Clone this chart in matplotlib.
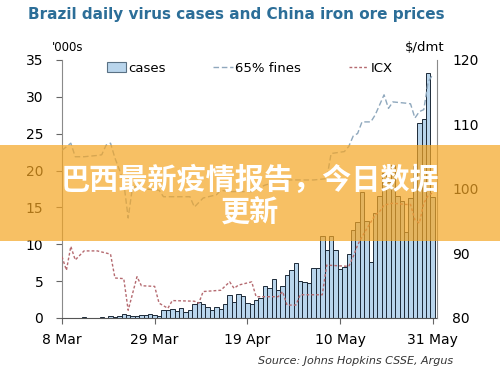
import numpy as np
import pandas as pd
import matplotlib
matplotlib.use("Agg")
import matplotlib.pyplot as plt
from matplotlib.patches import Patch, Rectangle
from matplotlib.lines import Line2D

# Brazil daily cases ('000s), 8 Mar - 31 May
case_dates = pd.date_range("2020-03-08", "2020-05-31", freq="D")
cases = [
    0.007, 0.005, 0.006, 0.007, 0.014, 0.099, 0.0, 0.011, 0.038, 0.121,
    0.051, 0.249, 0.172, 0.228, 0.525, 0.378, 0.323, 0.307, 0.431, 0.432,
    0.487, 0.352, 0.323, 1.138, 1.119, 1.208, 1.012, 1.304, 0.770, 1.031,
    1.873, 2.136, 1.922, 1.546, 1.089, 1.465, 1.238, 1.832, 3.058, 2.105,
    3.257, 2.917, 2.055, 1.927, 2.498, 2.678, 4.279, 4.007, 5.281, 3.776,
    4.346, 5.789, 6.450, 7.502, 5.015, 4.898, 4.726, 6.794, 6.835, 11.156,
    9.162, 11.121, 9.167, 6.638, 6.895, 8.620, 11.923, 13.028, 17.126, 13.220,
    7.569, 14.288, 16.517, 19.694, 18.508, 20.803, 16.508, 15.813, 11.687, 16.324,
    20.599, 26.417, 26.928, 33.274, 16.409,
]

# 65% fines price, $/dmt
fines_dates = [
    "2020-03-08", "2020-03-10", "2020-03-11", "2020-03-13", "2020-03-16", "2020-03-17",
    "2020-03-18", "2020-03-19", "2020-03-20", "2020-03-21", "2020-03-22", "2020-03-23",
    "2020-03-24", "2020-03-27", "2020-03-30", "2020-03-31", "2020-04-06", "2020-04-07",
    "2020-04-09", "2020-04-12", "2020-04-13", "2020-04-15", "2020-04-20", "2020-04-23",
    "2020-04-27", "2020-05-04", "2020-05-07", "2020-05-08", "2020-05-11", "2020-05-12",
    "2020-05-13", "2020-05-14", "2020-05-15", "2020-05-17", "2020-05-18", "2020-05-20",
    "2020-05-21", "2020-05-22", "2020-05-25", "2020-05-26", "2020-05-27", "2020-05-28",
    "2020-05-29", "2020-05-30", "2020-05-31",
]
fines = [
    106.0, 107.1, 105.0, 105.0, 105.2, 105.3,
    106.8, 107.1, 104.8, 103.0, 101.0, 95.5,
    100.4, 100.0, 99.8, 98.8, 98.8, 97.2,
    98.6, 99.1, 99.8, 99.6, 99.6, 100.6,
    101.4, 101.4, 101.6, 105.5, 105.8, 106.6,
    108.2, 108.6, 110.4, 110.4, 111.5, 114.6,
    112.5, 113.5, 113.3, 113.2, 111.0, 112.0,
    112.3, 116.6, 117.7,
]

# ICX price, $/dmt
icx_dates = [
    "2020-03-08", "2020-03-09", "2020-03-10", "2020-03-11", "2020-03-13", "2020-03-16",
    "2020-03-19", "2020-03-20", "2020-03-22", "2020-03-23", "2020-03-25", "2020-03-26",
    "2020-03-29", "2020-03-30", "2020-04-01", "2020-04-02", "2020-04-07", "2020-04-08",
    "2020-04-09", "2020-04-13", "2020-04-15", "2020-04-16", "2020-04-17", "2020-04-20",
    "2020-04-21", "2020-04-26", "2020-04-27", "2020-04-28", "2020-04-30", "2020-05-01",
    "2020-05-06", "2020-05-07", "2020-05-12", "2020-05-13", "2020-05-14", "2020-05-15",
    "2020-05-18", "2020-05-19", "2020-05-20", "2020-05-22", "2020-05-25", "2020-05-26",
    "2020-05-27", "2020-05-28", "2020-05-29", "2020-05-30", "2020-05-31",
]
icx = [
    89.5, 87.4, 91.1, 89.0, 90.4, 90.4,
    89.9, 86.2, 86.1, 81.2, 86.4, 85.0,
    84.9, 82.3, 81.5, 82.7, 82.6, 82.3,
    84.1, 84.3, 85.6, 84.6, 85.1, 85.6,
    83.3, 83.3, 84.1, 82.0, 82.0, 83.6,
    83.6, 88.2, 88.0, 89.5, 91.3, 92.6,
    96.0, 96.5, 97.5, 97.8, 97.6, 97.6,
    95.2, 94.7, 97.8, 99.0, 99.4,
]

tick_dates = ["2020-03-08", "2020-03-29", "2020-04-19", "2020-05-10", "2020-05-31"]
tick_labels = ["8 Mar", "29 Mar", "19 Apr", "10 May", "31 May"]

plt.rcParams['font.family'] = ['DejaVu Sans']

fig = plt.figure(figsize=(5, 3.86), dpi=100)
ax = fig.add_axes([0.124, 0.1762, 0.75, 0.6684])
ax2 = ax.twinx()

ax.bar(case_dates, cases, width=1.0, color='#b9d5ec', edgecolor='#1d2a38', linewidth=0.7)
ax2.plot(pd.to_datetime(fines_dates), fines, color='#8fa8bd', linewidth=1.0, dashes=(4, 2))
ax2.plot(pd.to_datetime(icx_dates), icx, color='#b56a70', linewidth=1.0, dashes=(2, 1.5))

ax.set_xlim(pd.Timestamp("2020-03-08"), pd.Timestamp("2020-06-01"))
ax.set_ylim(0, 35)
ax2.set_ylim(80, 120)
ax.set_yticks(range(0, 36, 5))
ax2.set_yticks(range(80, 121, 10))
ax.set_xticks(pd.to_datetime(tick_dates))
ax.set_xticklabels(tick_labels)

for a in (ax, ax2):
    a.spines['top'].set_visible(False)
ax.spines['right'].set_visible(False)
ax.spines['left'].set_color('#8a8a8a')
ax.spines['bottom'].set_color('#555555')
ax2.spines['left'].set_visible(False)
ax2.spines['bottom'].set_visible(False)
ax2.spines['right'].set_color('#8a8a8a')

ax.tick_params(axis='y', length=4.5, width=0.8, color='#666666', pad=9, labelsize=10)
ax.tick_params(axis='x', length=4.5, width=0.8, color='#666666', pad=6, labelsize=10)
ax2.tick_params(axis='y', length=0, pad=11, labelsize=10)

handles = [
    Patch(facecolor='#b9d5ec', edgecolor='#5a7184', linewidth=0.8),
    Line2D([], [], color='#8fa8bd', linewidth=1.0, dashes=(4, 2)),
    Line2D([], [], color='#b56a70', linewidth=1.0, dashes=(2, 1.5)),
]
ax2.legend(handles, ["cases", "65% fines", "ICX"], ncol=3, frameon=False,
           loc='upper center', bbox_to_anchor=(0.5, 1.04), fontsize=9.5,
           handlelength=1.5, handletextpad=0.15, columnspacing=3.6)

fig.text(0.056, 0.962, "Brazil daily virus cases and China iron ore prices",
         fontsize=11, fontweight='bold', color='#2c6e98', va='center', ha='left')
fig.text(0.104, 0.878, "'000s", fontsize=8.5, va='center', ha='left')
fig.text(0.81, 0.878, "$/dmt", fontsize=9.5, va='center', ha='left')
fig.text(0.516, 0.065, "Source: Johns Hopkins CSSE, Argus", fontsize=8,
         style='italic', color='#333333', va='center', ha='left')

# overlay banner
fig.patches.append(Rectangle((0, 1 - 241 / 386), 1, 96 / 386, transform=fig.transFigure,
                             facecolor='#f5a623', alpha=0.7, edgecolor='none', zorder=5))
fig.text(0.5, 1 - 196 / 386, "巴西最新疫情报告，今日数据\n更新", fontsize=21,
         fontweight='bold', color='white', ha='center', va='center', linespacing=1.1,
         family=['Noto Sans CJK SC', 'DejaVu Sans'], zorder=6)

fig.savefig("out.png", dpi=100)
